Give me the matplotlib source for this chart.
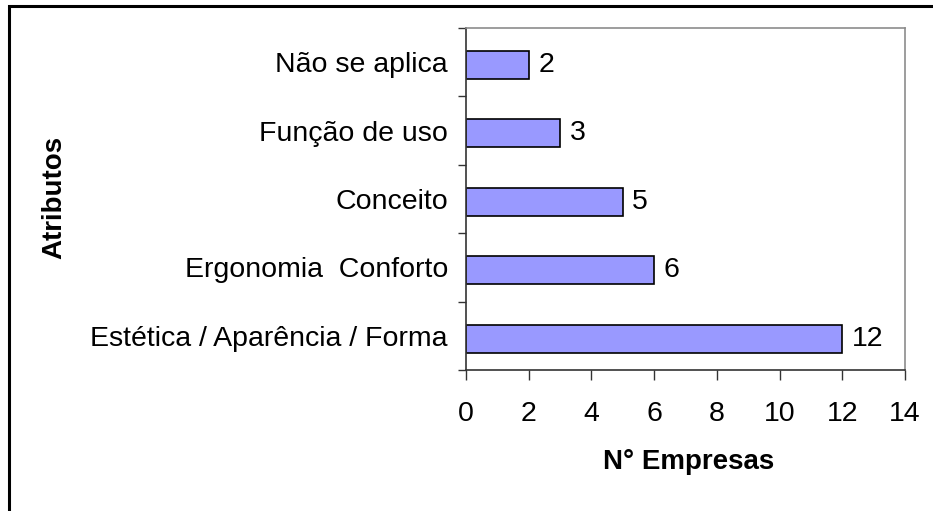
import numpy as np
import matplotlib
matplotlib.use("Agg")
import matplotlib.pyplot as plt
from matplotlib.patches import Rectangle

# ================= 数据 =================
categorias = ["Estética / Aparência / Forma", "Ergonomia  Conforto", "Conceito",
              "Função de uso", "Não se aplica"]
empresas = [12, 6, 5, 3, 2]
x_ticks = [0, 2, 4, 6, 8, 10, 12, 14]

plt.rcParams['font.family'] = ['Liberation Sans', 'DejaVu Sans']
FS = 20.5

fig = plt.figure(figsize=(9.33, 5.11), dpi=100)
ax = fig.add_axes([0.4995, 0.2759, 0.4705, 0.6693])

# 外边框
fig.patches.append(Rectangle((9 / 933, -0.1), 1.2, 1 - 6 / 511 + 0.1,
                             transform=fig.transFigure, fill=False,
                             edgecolor='black', linewidth=2.2))

y = np.arange(len(categorias))
ax.barh(y - 0.04, empresas, height=0.41, color='#9999FF', edgecolor='black', linewidth=1.2)
for yi, v in zip(y, empresas):
    ax.text(v + 0.3, yi - 0.04, str(v), va='center', ha='left', fontsize=FS)

ax.set_xlim(0, 14)
ax.set_ylim(-0.5, len(categorias) - 0.5)
ax.set_xticks(x_ticks)
ax.set_xticklabels([str(t) for t in x_ticks], fontsize=FS)
ax.set_yticks(y)
ax.set_yticklabels(categorias, fontsize=FS)
ax.set_yticks(np.arange(-0.5, len(categorias), 1), minor=True)
ax.tick_params(axis='y', which='major', length=0, pad=13)
ax.tick_params(axis='y', which='minor', length=6, width=1, color='#333333')
ax.tick_params(axis='x', which='major', length=7, width=1, color='#333333', pad=15)

for s in ['left', 'bottom']:
    ax.spines[s].set_color('#333333')
    ax.spines[s].set_linewidth(1.2)
for s in ['top', 'right']:
    ax.spines[s].set_color('#8c8c8c')
    ax.spines[s].set_linewidth(1.2)

fig.text(689 / 933, 1 - 462 / 511, "N° Empresas", fontsize=20, fontweight='bold',
         ha='center', va='center')
fig.text(54 / 933, 1 - 197 / 511, "Atributos", rotation=90, fontsize=20,
         fontweight='bold', ha='center', va='center')

fig.savefig("out.png", dpi=100)
